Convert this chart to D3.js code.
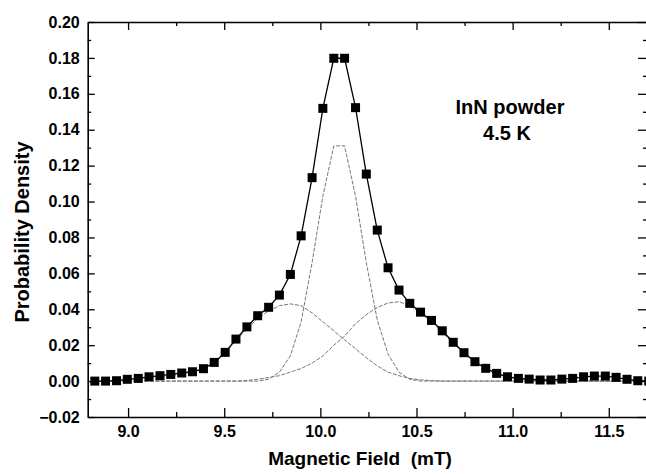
<!DOCTYPE html>
<html lang="en">
<head>
<meta charset="utf-8">
<title>InN powder</title>
<script src="https://cdn.jsdelivr.net/npm/d3@7"></script>
<style type="text/css">
  body { margin: 0; background: #ffffff; }
  .tick text { font-family: "Liberation Sans", Arial, sans-serif; font-weight: bold; font-size: 16px; fill: #000; }
  .axis path, .axis line { stroke: #000; }
  .axis path { stroke-width: 1.6; }
  .axis line { stroke-width: 1.3; }
  .title { font-family: "Liberation Sans", Arial, sans-serif; font-weight: bold; font-size: 19px; fill: #000; }
  .ytitle { font-size: 20px; }
  .note { font-family: "Liberation Sans", Arial, sans-serif; font-weight: bold; font-size: 20px; fill: #000; text-anchor: middle; }
  .fit { fill: none; stroke: #777; stroke-width: 1; stroke-dasharray: 4,1.5; }
  .total { fill: none; stroke: #000; stroke-width: 1.3; }
</style>
</head>
<body>
<script type="text/javascript">
// magnetic field (mT) of each sample
var field = [8.827, 8.883, 8.940, 8.996, 9.053, 9.109, 9.166, 9.222, 9.279, 9.335,
             9.392, 9.448, 9.505, 9.561, 9.618, 9.674, 9.731, 9.787, 9.844, 9.900,
             9.957, 10.013, 10.070, 10.126, 10.183, 10.239, 10.296, 10.352, 10.409, 10.465,
             10.521, 10.578, 10.634, 10.691, 10.747, 10.804, 10.860, 10.917, 10.973, 11.030,
             11.086, 11.143, 11.199, 11.256, 11.312, 11.369, 11.425, 11.482, 11.538, 11.595,
             11.651, 11.708];

// measured probability density (squares)
var density = [0.0000, 0.0000, 0.0002, 0.0010, 0.0015, 0.0024, 0.0030, 0.0037, 0.0045, 0.0052,
               0.0069, 0.0104, 0.0160, 0.0234, 0.0302, 0.0364, 0.0411, 0.0479, 0.0594, 0.0809,
               0.1133, 0.1519, 0.1798, 0.1798, 0.1523, 0.1153, 0.0841, 0.0631, 0.0507, 0.0433,
               0.0384, 0.0338, 0.0280, 0.0216, 0.0158, 0.0108, 0.0071, 0.0043, 0.0024, 0.0015,
               0.0011, 0.0006, 0.0006, 0.0011, 0.0015, 0.0024, 0.0028, 0.0028, 0.0021, 0.0010,
               0.0002, 0.0000];

// fitted components (dotted grey)
var narrowFit = [0, 0, 0, 0, 0, 0, 0, 0, 0, 0,
                 0, 0, 0, 0, 0, 0, 0.001, 0.005, 0.014, 0.033,
                 0.066, 0.103, 0.131, 0.131, 0.103, 0.066, 0.034, 0.015, 0.005, 0.001,
                 0, 0, 0, 0, 0, 0, 0, 0, 0, 0,
                 0, 0, 0, 0, 0, 0, 0, 0, 0, 0,
                 0, 0];
var lowFit = [0, 0, 0.0002, 0.0005, 0.001, 0.0015, 0.002, 0.0028, 0.0035, 0.0045,
              0.0065, 0.010, 0.0155, 0.0225, 0.029, 0.035, 0.039, 0.042, 0.043, 0.042,
              0.038, 0.033, 0.028, 0.023, 0.018, 0.013, 0.0085, 0.005, 0.003, 0.0015,
              0.0007, 0.0003, 0, 0, 0, 0, 0, 0, 0, 0,
              0, 0, 0, 0, 0, 0, 0, 0, 0, 0,
              0, 0];
var highFit = [0, 0, 0, 0, 0, 0, 0, 0, 0, 0,
               0, 0, 0, 0, 0.0003, 0.001, 0.002, 0.003, 0.005, 0.007,
               0.010, 0.014, 0.020, 0.025, 0.032, 0.037, 0.041, 0.0435, 0.0442, 0.042,
               0.038, 0.033, 0.027, 0.021, 0.0155, 0.0105, 0.0068, 0.004, 0.0022, 0.0012,
               0.0006, 0.0003, 0, 0, 0, 0, 0, 0, 0, 0,
               0, 0];

var xTicks = [9.0, 9.5, 10.0, 10.5, 11.0, 11.5];
var xMinor = [9.25, 9.75, 10.25, 10.75, 11.25];
var yTicks = [-0.02, 0.00, 0.02, 0.04, 0.06, 0.08, 0.10, 0.12, 0.14, 0.16, 0.18, 0.20];
var yMinor = [-0.01, 0.01, 0.03, 0.05, 0.07, 0.09, 0.11, 0.13, 0.15, 0.17, 0.19];

var svgWidth = 646;
var svgHeight = 474;
var plotLeft = 87.7, plotRight = 648, plotTop = 22, plotBottom = 417;

var x = d3.scaleLinear().domain([8.79, 11.704]).range([plotLeft, plotRight]);
var y = d3.scaleLinear().domain([-0.02, 0.20]).range([plotBottom, plotTop]);

var svg = d3.select("body").append("svg")
    .attr("width", svgWidth)
    .attr("height", svgHeight)
    .style("background", "#fff");

// axes (ticks point inward)
svg.append("g").attr("class", "axis")
    .attr("transform", "translate(0," + plotBottom + ")")
    .call(d3.axisBottom(x).tickValues(xTicks).tickFormat(d3.format(".1f"))
        .tickSizeInner(-9).tickSizeOuter(0).tickPadding(9));
svg.append("g").attr("class", "axis")
    .attr("transform", "translate(0," + plotBottom + ")")
    .call(d3.axisBottom(x).tickValues(xMinor).tickFormat("").tickSizeInner(-5).tickSizeOuter(0))
    .select(".domain").remove();

svg.append("g").attr("class", "axis")
    .attr("transform", "translate(0," + plotTop + ")")
    .call(d3.axisTop(x).tickValues(xTicks).tickFormat("").tickSizeInner(-8).tickSizeOuter(0));
svg.append("g").attr("class", "axis")
    .attr("transform", "translate(0," + plotTop + ")")
    .call(d3.axisTop(x).tickValues(xMinor).tickFormat("").tickSizeInner(-4).tickSizeOuter(0))
    .select(".domain").remove();

svg.append("g").attr("class", "axis")
    .attr("transform", "translate(" + plotLeft + ",0)")
    .call(d3.axisLeft(y).tickValues(yTicks).tickFormat(d3.format(".2f"))
        .tickSizeInner(-7).tickSizeOuter(0).tickPadding(8));
svg.append("g").attr("class", "axis")
    .attr("transform", "translate(" + plotLeft + ",0)")
    .call(d3.axisLeft(y).tickValues(yMinor).tickFormat("").tickSizeInner(-3.5).tickSizeOuter(0))
    .select(".domain").remove();

svg.append("g").attr("class", "axis")
    .attr("transform", "translate(" + plotRight + ",0)")
    .call(d3.axisRight(y).tickValues(yTicks).tickFormat("").tickSizeInner(-10).tickSizeOuter(0));
svg.append("g").attr("class", "axis")
    .attr("transform", "translate(" + plotRight + ",0)")
    .call(d3.axisRight(y).tickValues(yMinor).tickFormat("").tickSizeInner(-5).tickSizeOuter(0))
    .select(".domain").remove();

// fitted components
var fitLine = function(values) {
  return d3.line()
    .x(function(d, i) { return x(field[i]); })
    .y(function(d) { return y(d); })(values);
};
[narrowFit, lowFit, highFit].forEach(function(values) {
  svg.append("path").attr("class", "fit").attr("d", fitLine(values));
});

// measured data
svg.append("path").attr("class", "total").attr("d", fitLine(density));

var size = 9;
svg.selectAll("rect.point")
    .data(density)
    .enter()
    .append("rect")
    .attr("class", "point")
    .attr("x", function(d, i) { return x(field[i]) - size / 2; })
    .attr("y", function(d) { return y(d) - size / 2; })
    .attr("width", size)
    .attr("height", size)
    .attr("fill", "#000");

// titles
svg.append("text").attr("class", "title")
    .attr("x", 360)
    .attr("y", 465)
    .attr("text-anchor", "middle")
    .attr("xml:space", "preserve")
    .text("Magnetic Field  (mT)");

svg.append("text").attr("class", "title ytitle")
    .attr("transform", "translate(29,232) rotate(-90)")
    .attr("text-anchor", "middle")
    .text("Probability Density");

svg.append("text").attr("class", "note").attr("x", 510).attr("y", 114).text("InN powder");
svg.append("text").attr("class", "note").attr("x", 507).attr("y", 140).text("4.5 K");
</script>
</body>
</html>
